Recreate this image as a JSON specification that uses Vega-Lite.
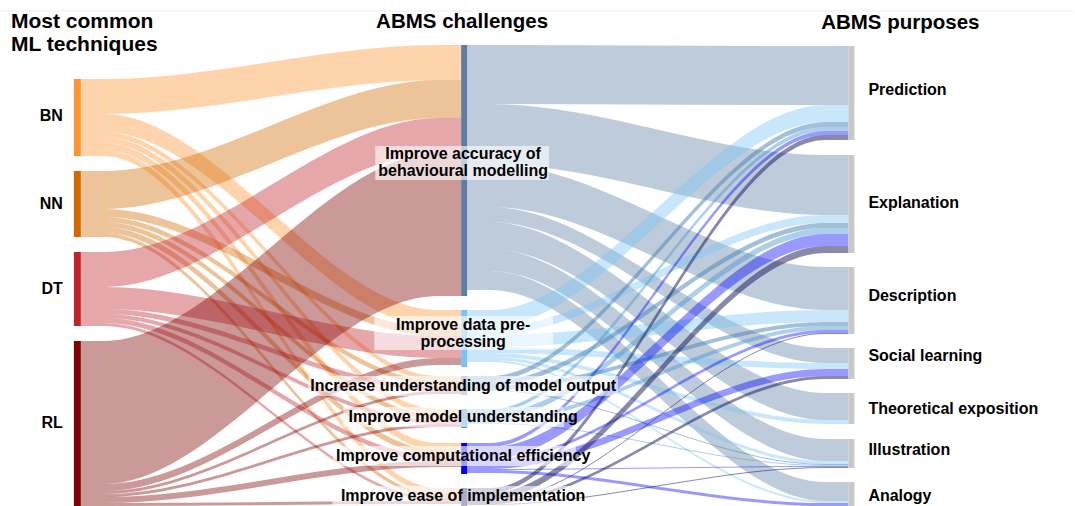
{
  "$schema": "https://vega.github.io/schema/vega-lite/v6.json",
  "width": 1075,
  "height": 506,
  "padding": 0,
  "autosize": {"type": "fit", "contains": "padding"},
  "background": "white",
  "config": {"view": {"stroke": null}, "text": {"font": "Liberation Sans", "fontWeight": "bold"}},
  "datasets": {
    "top": [{"y": 11}],
    "links": [
      {"l": "BN-Acc", "c": "BN", "x": [80,103,438,461], "y": [79,79,45,45], "y2": [114,114,80,80]},
      {"l": "BN-Pre", "c": "BN", "x": [80,103,438,461], "y": [114,114,310,310], "y2": [132,132,328,328]},
      {"l": "BN-Und", "c": "BN", "x": [80,103,438,461], "y": [132,132,376,376], "y2": [137,137,381,381]},
      {"l": "BN-Mod", "c": "BN", "x": [80,103,438,461], "y": [137,137,409,409], "y2": [143,143,415,415]},
      {"l": "BN-Comp", "c": "BN", "x": [80,103,438,461], "y": [143,143,443,443], "y2": [150,150,450,450]},
      {"l": "BN-Ease", "c": "BN", "x": [80,103,438,461], "y": [150,150,488,488], "y2": [156,156,494,494]},
      {"l": "NN-Acc", "c": "NN", "x": [80,103,438,461], "y": [171,171,80,80], "y2": [209,209,118,118]},
      {"l": "NN-Pre", "c": "NN", "x": [80,103,438,461], "y": [209,209,328,328], "y2": [217,217,336,336]},
      {"l": "NN-Und", "c": "NN", "x": [80,103,438,461], "y": [217,217,381,381], "y2": [222,222,386,386]},
      {"l": "NN-Mod", "c": "NN", "x": [80,103,438,461], "y": [222,222,415,415], "y2": [227,227,420,420]},
      {"l": "NN-Comp", "c": "NN", "x": [80,103,438,461], "y": [227,227,450,450], "y2": [233,233,456,456]},
      {"l": "NN-Ease", "c": "NN", "x": [80,103,438,461], "y": [233,233,494,494], "y2": [237,237,498,498]},
      {"l": "DT-Acc", "c": "DT", "x": [80,103,438,461], "y": [252,252,118,118], "y2": [287,287,153,153]},
      {"l": "DT-Pre", "c": "DT", "x": [80,103,438,461], "y": [287,287,336,336], "y2": [309,309,358,358]},
      {"l": "DT-Und", "c": "DT", "x": [80,103,438,461], "y": [309,309,386,386], "y2": [314,314,391,391]},
      {"l": "DT-Mod", "c": "DT", "x": [80,103,438,461], "y": [314,314,420,420], "y2": [318,318,424,424]},
      {"l": "DT-Comp", "c": "DT", "x": [80,103,438,461], "y": [318,318,456,456], "y2": [323,323,461,461]},
      {"l": "DT-Ease", "c": "DT", "x": [80,103,438,461], "y": [323,323,498,498], "y2": [326,326,501,501]},
      {"l": "RL-Acc", "c": "RL", "x": [80,103,438,461], "y": [341,341,153,153], "y2": [484,484,296,296]},
      {"l": "RL-Pre", "c": "RL", "x": [80,103,438,461], "y": [484,484,358,358], "y2": [491,491,365,365]},
      {"l": "RL-Und", "c": "RL", "x": [80,103,438,461], "y": [491,491,391,391], "y2": [494,494,394,394]},
      {"l": "RL-Mod", "c": "RL", "x": [80,103,438,461], "y": [494,494,424,424], "y2": [497,497,427,427]},
      {"l": "RL-Comp", "c": "RL", "x": [80,103,438,461], "y": [497,497,461,461], "y2": [503,503,467,467]},
      {"l": "RL-Ease", "c": "RL", "x": [80,103,438,461], "y": [503,503,501,501], "y2": [506,506,504,504]},
      {"l": "Acc-Pred", "c": "Acc", "x": [467,490,826,849], "y": [45,45,46,46], "y2": [104,104,105,105]},
      {"l": "Acc-Expl", "c": "Acc", "x": [467,490,826,849], "y": [104,104,155,155], "y2": [164,164,215,215]},
      {"l": "Acc-Desc", "c": "Acc", "x": [467,490,826,849], "y": [164,164,267,267], "y2": [207,207,310,310]},
      {"l": "Acc-Soc", "c": "Acc", "x": [467,490,826,849], "y": [207,207,348,348], "y2": [222,222,363,363]},
      {"l": "Acc-Theo", "c": "Acc", "x": [467,490,826,849], "y": [222,222,393,393], "y2": [249,249,420,420]},
      {"l": "Acc-Ill", "c": "Acc", "x": [467,490,826,849], "y": [249,249,439,439], "y2": [271,271,461,461]},
      {"l": "Acc-Ana", "c": "Acc", "x": [467,490,826,849], "y": [271,271,482,482], "y2": [290,290,501,501]},
      {"l": "Pre-Pred", "c": "Pre", "x": [467,490,826,849], "y": [310,310,105,105], "y2": [327,327,122,122]},
      {"l": "Pre-Expl", "c": "Pre", "x": [467,490,826,849], "y": [327,327,215,215], "y2": [335,335,223,223]},
      {"l": "Pre-Desc", "c": "Pre", "x": [467,490,826,849], "y": [335,335,310,310], "y2": [347,347,322,322]},
      {"l": "Pre-Soc", "c": "Pre", "x": [467,490,826,849], "y": [347,347,363,363], "y2": [353,353,369,369]},
      {"l": "Pre-Theo", "c": "Pre", "x": [467,490,826,849], "y": [353,353,420,420], "y2": [357,357,424,424]},
      {"l": "Pre-Ill", "c": "Pre", "x": [467,490,826,849], "y": [357,357,461,461], "y2": [360,360,464,464]},
      {"l": "Pre-Ana", "c": "Pre", "x": [467,490,826,849], "y": [360,360,501,501], "y2": [362,362,503,503]},
      {"l": "Und-Pred", "c": "Und", "x": [467,490,826,849], "y": [376,376,122,122], "y2": [381,381,127,127]},
      {"l": "Und-Expl", "c": "Und", "x": [467,490,826,849], "y": [381,381,223,223], "y2": [386,386,228,228]},
      {"l": "Und-Desc", "c": "Und", "x": [467,490,826,849], "y": [386,386,322,322], "y2": [390,390,326,326]},
      {"l": "Und-Ill", "c": "Und", "x": [467,490,826,849], "y": [390,390,464,464], "y2": [391,391,465,465]},
      {"l": "Mod-Pred", "c": "Mod", "x": [467,490,826,849], "y": [409,409,127,127], "y2": [413,413,131,131]},
      {"l": "Mod-Expl", "c": "Mod", "x": [467,490,826,849], "y": [413,413,228,228], "y2": [419,419,234,234]},
      {"l": "Mod-Desc", "c": "Mod", "x": [467,490,826,849], "y": [419,419,326,326], "y2": [423,423,330,330]},
      {"l": "Mod-Ill", "c": "Mod", "x": [467,490,826,849], "y": [423,423,465,465], "y2": [424,424,466,466]},
      {"l": "Comp-Pred", "c": "Comp", "x": [467,490,826,849], "y": [443,443,131,131], "y2": [447,447,135,135]},
      {"l": "Comp-Expl", "c": "Comp", "x": [467,490,826,849], "y": [447,447,234,234], "y2": [459,459,246,246]},
      {"l": "Comp-Desc", "c": "Comp", "x": [467,490,826,849], "y": [459,459,330,330], "y2": [462,462,333,333]},
      {"l": "Comp-Soc", "c": "Comp", "x": [467,490,826,849], "y": [462,462,369,369], "y2": [469,469,376,376]},
      {"l": "Comp-Ill", "c": "Comp", "x": [467,490,826,849], "y": [469,469,466,466], "y2": [470,470,467,467]},
      {"l": "Comp-Ana", "c": "Comp", "x": [467,490,826,849], "y": [470,470,503,503], "y2": [473,473,506,506]},
      {"l": "Ease-Pred", "c": "Ease", "x": [467,490,826,849], "y": [488,488,135,135], "y2": [493,493,140,140]},
      {"l": "Ease-Expl", "c": "Ease", "x": [467,490,826,849], "y": [493,493,246,246], "y2": [500,500,253,253]},
      {"l": "Ease-Desc", "c": "Ease", "x": [467,490,826,849], "y": [500,500,333,333], "y2": [501,501,334,334]},
      {"l": "Ease-Soc", "c": "Ease", "x": [467,490,826,849], "y": [501,501,376,376], "y2": [504,504,379,379]},
      {"l": "Ease-Ill", "c": "Ease", "x": [467,490,826,849], "y": [504,504,467,467], "y2": [505,505,468,468]}
    ],
    "nodes": [
      {"n": "BN", "x": 73, "x2": 80, "y": 79, "y2": 156},
      {"n": "NN", "x": 73, "x2": 80, "y": 171, "y2": 237},
      {"n": "DT", "x": 73, "x2": 80, "y": 252, "y2": 326},
      {"n": "RL", "x": 73, "x2": 80, "y": 341, "y2": 506},
      {"n": "Acc", "x": 461, "x2": 467, "y": 45, "y2": 296},
      {"n": "Pre", "x": 461, "x2": 467, "y": 310, "y2": 367},
      {"n": "Und", "x": 461, "x2": 467, "y": 376, "y2": 395},
      {"n": "Mod", "x": 461, "x2": 467, "y": 409, "y2": 428},
      {"n": "Comp", "x": 461, "x2": 467, "y": 443, "y2": 474},
      {"n": "Ease", "x": 461, "x2": 467, "y": 488, "y2": 506},
      {"n": "Pred", "x": 849, "x2": 855, "y": 46, "y2": 140},
      {"n": "Expl", "x": 849, "x2": 855, "y": 155, "y2": 253},
      {"n": "Desc", "x": 849, "x2": 855, "y": 267, "y2": 334},
      {"n": "Soc", "x": 849, "x2": 855, "y": 348, "y2": 379},
      {"n": "Theo", "x": 849, "x2": 855, "y": 393, "y2": 424},
      {"n": "Ill", "x": 849, "x2": 855, "y": 439, "y2": 468},
      {"n": "Ana", "x": 849, "x2": 855, "y": 482, "y2": 506}
    ],
    "boxes": [
      {"x": 375, "x2": 549, "y": 146, "y2": 180},
      {"x": 374, "x2": 553, "y": 316, "y2": 350},
      {"x": 308, "x2": 618, "y": 376, "y2": 396},
      {"x": 343, "x2": 564, "y": 407, "y2": 427},
      {"x": 333, "x2": 576, "y": 446, "y2": 466},
      {"x": 332, "x2": 573, "y": 486, "y2": 506}
    ],
    "midLabels": [
      {"t": "Improve accuracy of\nbehavioural modelling", "x": 463, "y": 154},
      {"t": "Improve data pre-\nprocessing", "x": 463, "y": 325},
      {"t": "Increase understanding of model output", "x": 463, "y": 386},
      {"t": "Improve model understanding", "x": 463, "y": 417},
      {"t": "Improve computational efficiency", "x": 463, "y": 456},
      {"t": "Improve ease of implementation", "x": 463, "y": 496}
    ],
    "leftLabels": [
      {"t": "BN", "x": 62, "y": 116},
      {"t": "NN", "x": 62, "y": 204},
      {"t": "DT", "x": 62, "y": 289},
      {"t": "RL", "x": 62, "y": 423}
    ],
    "rightLabels": [
      {"t": "Prediction", "x": 869, "y": 90},
      {"t": "Explanation", "x": 869, "y": 203},
      {"t": "Description", "x": 869, "y": 296},
      {"t": "Social learning", "x": 869, "y": 356},
      {"t": "Theoretical exposition", "x": 869, "y": 409},
      {"t": "Illustration", "x": 869, "y": 450},
      {"t": "Analogy", "x": 869, "y": 496}
    ],
    "titlesLeft": [
      {"t": "Most common\nML techniques", "x": 10, "y": 22}
    ],
    "titlesCenter": [
      {"t": "ABMS challenges", "x": 462, "y": 22},
      {"t": "ABMS purposes", "x": 901, "y": 23}
    ]
  },
  "layer": [
    {
      "data": {"name": "top"},
      "mark": {"type": "rule", "color": "#eeeeee", "strokeWidth": 1},
      "encoding": {
        "y": {"field": "y", "type": "quantitative", "scale": {"domain": [0, 506], "nice": false, "zero": false, "reverse": true}, "axis": null}
      }
    },
    {
      "data": {"name": "links"},
      "transform": [{"flatten": ["x", "y", "y2"]}],
      "mark": {"type": "area", "interpolate": "monotone", "orient": "vertical", "opacity": 1, "clip": true},
      "encoding": {
        "x": {"field": "x", "type": "quantitative", "scale": {"domain": [0, 1075], "nice": false, "zero": false}, "axis": null},
        "y": {"field": "y", "type": "quantitative", "stack": null, "scale": {"domain": [0, 506], "nice": false, "zero": false, "reverse": true}, "axis": null},
        "y2": {"field": "y2"},
        "detail": {"field": "l", "type": "nominal"},
        "color": {
          "field": "c", "type": "nominal", "legend": null,
          "scale": {
            "domain": ["BN", "NN", "DT", "RL", "Acc", "Pre", "Und", "Mod", "Comp", "Ease"],
            "range": ["rgba(255,148,50,0.4)", "rgba(210,105,0,0.4)", "rgba(192,36,42,0.4)", "rgba(128,0,0,0.4)", "rgba(91,126,163,0.4)", "rgba(120,195,245,0.4)", "rgba(70,130,180,0.5)", "rgba(74,151,208,0.45)", "rgba(0,0,255,0.4)", "rgba(20,20,90,0.5)"]
          }
        }
      }
    },
    {
      "data": {"name": "nodes"},
      "mark": {"type": "rect", "clip": true},
      "encoding": {
        "x": {"field": "x", "type": "quantitative", "scale": {"domain": [0, 1075], "nice": false, "zero": false}, "axis": null},
        "x2": {"field": "x2"},
        "y": {"field": "y", "type": "quantitative", "scale": {"domain": [0, 506], "nice": false, "zero": false, "reverse": true}, "axis": null},
        "y2": {"field": "y2"},
        "fill": {
          "field": "n", "type": "nominal", "legend": null,
          "scale": {
            "domain": ["BN", "NN", "DT", "RL", "Acc", "Pre", "Und", "Mod", "Comp", "Ease", "Pred", "Expl", "Desc", "Soc", "Theo", "Ill", "Ana"],
            "range": ["#ff9432", "#d26900", "#c0242a", "#800000", "#5b7ea3", "#78c3f5", "#6c9ac6", "#4f9ad6", "#0000ff", "#2a2a7a", "#c8c8c8", "#c8c8c8", "#c8c8c8", "#c8c8c8", "#c8c8c8", "#c8c8c8", "#c8c8c8"]
          }
        }
      }
    },
    {
      "data": {"name": "boxes"},
      "mark": {"type": "rect", "color": "white", "opacity": 0.62},
      "encoding": {
        "x": {"field": "x", "type": "quantitative", "scale": {"domain": [0, 1075], "nice": false, "zero": false}, "axis": null},
        "x2": {"field": "x2"},
        "y": {"field": "y", "type": "quantitative", "scale": {"domain": [0, 506], "nice": false, "zero": false, "reverse": true}, "axis": null},
        "y2": {"field": "y2"}
      }
    },
    {
      "data": {"name": "midLabels"},
      "mark": {"type": "text", "align": "center", "baseline": "middle", "fontSize": 16, "lineBreak": "\n", "lineHeight": 17, "color": "black"},
      "encoding": {
        "x": {"field": "x", "type": "quantitative", "scale": {"domain": [0, 1075], "nice": false, "zero": false}, "axis": null},
        "y": {"field": "y", "type": "quantitative", "scale": {"domain": [0, 506], "nice": false, "zero": false, "reverse": true}, "axis": null},
        "text": {"field": "t"}
      }
    },
    {
      "data": {"name": "leftLabels"},
      "mark": {"type": "text", "align": "right", "baseline": "middle", "fontSize": 16, "color": "black"},
      "encoding": {
        "x": {"field": "x", "type": "quantitative", "scale": {"domain": [0, 1075], "nice": false, "zero": false}, "axis": null},
        "y": {"field": "y", "type": "quantitative", "scale": {"domain": [0, 506], "nice": false, "zero": false, "reverse": true}, "axis": null},
        "text": {"field": "t"}
      }
    },
    {
      "data": {"name": "rightLabels"},
      "mark": {"type": "text", "align": "left", "baseline": "middle", "fontSize": 16, "color": "black"},
      "encoding": {
        "x": {"field": "x", "type": "quantitative", "scale": {"domain": [0, 1075], "nice": false, "zero": false}, "axis": null},
        "y": {"field": "y", "type": "quantitative", "scale": {"domain": [0, 506], "nice": false, "zero": false, "reverse": true}, "axis": null},
        "text": {"field": "t"}
      }
    },
    {
      "data": {"name": "titlesLeft"},
      "mark": {"type": "text", "align": "left", "baseline": "middle", "fontSize": 21, "lineBreak": "\n", "lineHeight": 23, "color": "black"},
      "encoding": {
        "x": {"field": "x", "type": "quantitative", "scale": {"domain": [0, 1075], "nice": false, "zero": false}, "axis": null},
        "y": {"field": "y", "type": "quantitative", "scale": {"domain": [0, 506], "nice": false, "zero": false, "reverse": true}, "axis": null},
        "text": {"field": "t"}
      }
    },
    {
      "data": {"name": "titlesCenter"},
      "mark": {"type": "text", "align": "center", "baseline": "middle", "fontSize": 20.5, "color": "black"},
      "encoding": {
        "x": {"field": "x", "type": "quantitative", "scale": {"domain": [0, 1075], "nice": false, "zero": false}, "axis": null},
        "y": {"field": "y", "type": "quantitative", "scale": {"domain": [0, 506], "nice": false, "zero": false, "reverse": true}, "axis": null},
        "text": {"field": "t"}
      }
    }
  ],
  "resolve": {"scale": {"color": "independent", "fill": "independent"}}
}
